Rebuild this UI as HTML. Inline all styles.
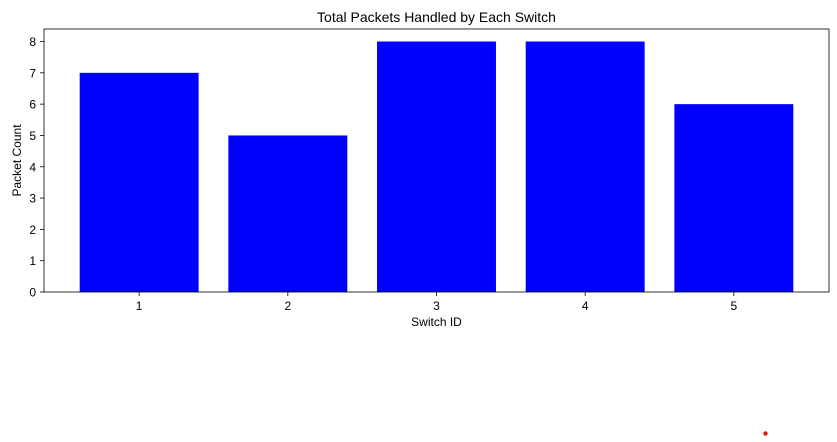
<!DOCTYPE html>
<html><head><meta charset="utf-8"><style>
body{margin:0;background:#fff;width:837px;height:437px;overflow:hidden;font-family:"Liberation Sans","DejaVu Sans",sans-serif}
</style></head><body>
<svg id="chart" width="837" height="437" font-family="Liberation Sans, DejaVu Sans, sans-serif">
<rect width="837" height="437" fill="#fff"/>
<text x="436.5" y="22" font-size="14" text-anchor="middle">Total Packets Handled by Each Switch</text>
<g id="bars"></g>
<g id="axes"></g>
<text x="436.5" y="326" font-size="12" text-anchor="middle">Switch ID</text>
<text transform="translate(21,160.5) rotate(-90)" font-size="12" text-anchor="middle">Packet Count</text>
<circle cx="765.5" cy="433.5" r="2.2" fill="#e8120e"/>
</svg>
<script>
const categories=["1","2","3","4","5"];
const packetCounts=[7,5,8,8,6];
const yTicks=[0,1,2,3,4,5,6,7,8];
const L=44,R=829,T=29,B=292;
const xMin=0.36,xMax=5.64,yMin=0,yMax=8.4;
function xs(v){return L+(v-xMin)/(xMax-xMin)*(R-L);}
function ys(v){return B-(v-yMin)/(yMax-yMin)*(B-T);}
const NS="http://www.w3.org/2000/svg";
const bars=document.getElementById('bars'),axes=document.getElementById('axes');
categories.forEach((c,i)=>{
  const r=document.createElementNS(NS,'rect');
  const x0=xs(i+1-0.4),x1=xs(i+1+0.4);
  r.setAttribute('x',x0);r.setAttribute('width',x1-x0);
  r.setAttribute('y',ys(packetCounts[i]));r.setAttribute('height',ys(0)-ys(packetCounts[i]));
  r.setAttribute('fill','#0000ff');
  
  
  bars.appendChild(r);
  const t=document.createElementNS(NS,'line');
  t.setAttribute('x1',xs(i+1));t.setAttribute('x2',xs(i+1));t.setAttribute('y1',B);t.setAttribute('y2',B+4);
  t.setAttribute('stroke','#000');t.setAttribute('stroke-width','0.8');
  
  
  axes.appendChild(t);
  const l=document.createElementNS(NS,'text');
  l.setAttribute('x',xs(i+1));l.setAttribute('y',B+18);l.setAttribute('font-size','12');l.setAttribute('text-anchor','middle');
  l.textContent=c;
  
  
  axes.appendChild(l);
});
yTicks.forEach(v=>{
  const t=document.createElementNS(NS,'line');
  t.setAttribute('x1',L-4);t.setAttribute('x2',L);t.setAttribute('y1',ys(v));t.setAttribute('y2',ys(v));
  t.setAttribute('stroke','#000');t.setAttribute('stroke-width','0.8');
  
  
  axes.appendChild(t);
  const l=document.createElementNS(NS,'text');
  l.setAttribute('x',L-8);l.setAttribute('y',ys(v)+4.5);l.setAttribute('font-size','12');l.setAttribute('text-anchor','end');
  l.textContent=v;
  
  
  axes.appendChild(l);
});
const f=document.createElementNS(NS,'rect');
f.setAttribute('x',L);f.setAttribute('y',T);f.setAttribute('width',R-L);f.setAttribute('height',B-T);
f.setAttribute('fill','none');f.setAttribute('stroke','#000');f.setAttribute('stroke-width','0.8');


axes.appendChild(f);
</script>
</body></html>
